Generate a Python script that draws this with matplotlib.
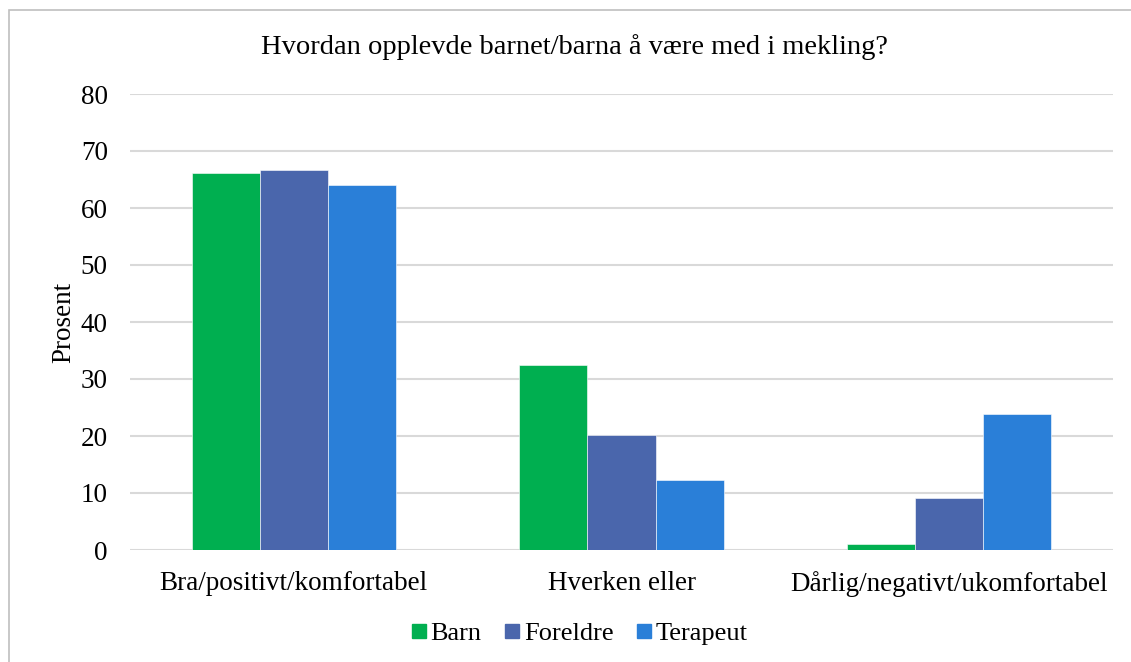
import matplotlib
matplotlib.use("Agg")
import matplotlib.pyplot as plt
import numpy as np
from matplotlib.patches import Rectangle
from matplotlib.lines import Line2D

plt.rcParams['font.family'] = ['Liberation Serif', 'DejaVu Serif']

categories = ["Bra/positivt/komfortabel", "Hverken eller", "Dårlig/negativt/ukomfortabel"]
barn = [66.2, 32.5, 1.1]
foreldre = [66.7, 20.1, 9.1]
terapeut = [64.0, 12.2, 23.8]
series_names = ["Barn", "Foreldre", "Terapeut"]
colors = ["#00AF50", "#4A66AC", "#2A7FD8"]
yticks = [0, 10, 20, 30, 40, 50, 60, 70, 80]

W, H = 1131, 662
fig = plt.figure(figsize=(W / 100, H / 100), dpi=100)
ax = fig.add_axes([130 / W, 1 - 550 / H, (1113 - 130) / W, (550 - 94) / H])

# chart frame (right/bottom edges run off the picture)
fig.patches.append(Rectangle((9 / W, -0.1), 1.2, 1 - 10 / H + 0.1, transform=fig.transFigure,
                             fill=False, edgecolor="#BFBFBF", linewidth=1.2))

x = np.arange(len(categories))
bw = 0.208
for i, (vals, name, c) in enumerate(zip([barn, foreldre, terapeut], series_names, colors)):
    ax.bar(x + (i - 1) * bw, vals, bw, color=c, label=name,
           edgecolor="#FFFFFF", linewidth=0.4, zorder=3)

fs = 19.5
ax.set_xlim(-0.5, 2.5)
ax.set_ylim(0, 80)
ax.set_yticks(yticks)
ax.set_xticks(x)
ax.set_xticklabels(categories, fontsize=fs)
ax.tick_params(axis="y", labelsize=fs, length=0, pad=16)
ax.tick_params(axis="x", length=0, pad=15)
ax.grid(axis="y", color="#D9D9D9", linewidth=1.5, zorder=0)
for s in ax.spines.values():
    s.set_visible(False)
ax.set_ylabel("Prosent", fontsize=fs, labelpad=3)

fig.text(574 / W, 1 - 47 / H, "Hvordan opplevde barnet/barna å være med i mekling?",
         ha="center", va="center", fontsize=20.5)

handles = [Line2D([], [], linestyle="none", marker="s", markersize=9.5,
                  markerfacecolor=c, markeredgecolor=c) for c in colors]
fig.legend(handles, series_names, loc="center", bbox_to_anchor=(580 / W, 1 - 633 / H),
           ncol=3, frameon=False, fontsize=19, handlelength=0.5, handletextpad=0.2,
           columnspacing=0.9)

fig.savefig("out.png", dpi=100)
